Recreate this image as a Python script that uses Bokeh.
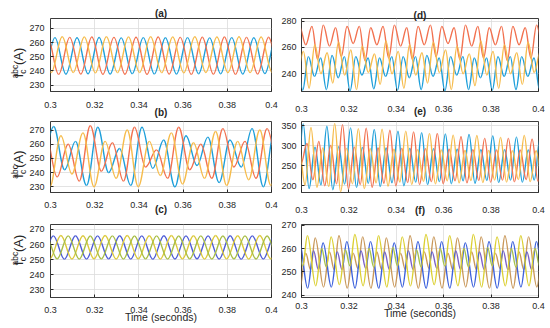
import numpy as np
from bokeh.plotting import figure
from bokeh.layouts import column, row
from bokeh.models import FixedTicker, ColumnDataSource, Range1d, LinearAxis
from bokeh.embed import file_html
from bokeh.resources import INLINE

# ---------------- data (extrema: time, value) ----------------
XTICKS = [0.30, 0.32, 0.34, 0.36, 0.38, 0.40]
XTICK_LABELS = ["0.3", "0.32", "0.34", "0.36", "0.38", "0.4"]
YTICKS_ABC = [230, 240, 250, 260, 270]
YTICKS_D = [240, 260, 280]
YTICKS_E = [200, 250, 300, 350]
YTICKS_F = [240, 250, 260, 270]
YRANGE_A = (225.5, 277.0)
YRANGE_B = (226.0, 276.0)
YRANGE_C = (225.0, 273.3)
YRANGE_D = (226.5, 282.0)
YRANGE_E = (183.0, 360.0)
YRANGE_F = (239.0, 270.3)
PANEL_TITLES = ["(a)", "(b)", "(c)", "(d)", "(e)", "(f)"]
X_LABEL = "Time (seconds)"
Y_LABEL_MAIN, Y_LABEL_SUP, Y_LABEL_SUB, Y_LABEL_UNIT = "I", "abc", "c", "(A)"

# (a)
A_BLUE_T = [0.2970, 0.3020, 0.3070, 0.3120, 0.3170, 0.3220, 0.3270, 0.3320, 0.3370, 0.3420, 0.3470,
            0.3520, 0.3570, 0.3620, 0.3670, 0.3720, 0.3770, 0.3820, 0.3870, 0.3920, 0.3970, 0.4020]
A_BLUE_V = [238.0, 263.5, 237.7, 263.4, 238.0, 263.6, 237.8, 263.3, 238.1, 263.5, 237.9,
            263.4, 237.8, 263.5, 238.0, 263.3, 238.0, 263.5, 237.8, 263.4, 238.1, 263.5]
A_RED_T = [0.2987, 0.3037, 0.3087, 0.3137, 0.3187, 0.3237, 0.3287, 0.3337, 0.3387, 0.3437, 0.3487,
           0.3537, 0.3587, 0.3637, 0.3687, 0.3737, 0.3787, 0.3837, 0.3887, 0.3937, 0.3987, 0.4037]
A_RED_V = [263.8, 237.6, 263.7, 237.8, 263.9, 237.6, 263.7, 237.7, 263.8, 237.6, 263.9,
           237.8, 263.7, 237.6, 263.8, 237.7, 263.9, 237.6, 263.7, 237.8, 263.8, 237.6]
A_YEL_T = [0.2953, 0.3003, 0.3053, 0.3103, 0.3153, 0.3203, 0.3253, 0.3303, 0.3353, 0.3403, 0.3453,
           0.3503, 0.3553, 0.3603, 0.3653, 0.3703, 0.3753, 0.3803, 0.3853, 0.3903, 0.3953, 0.4003]
A_YEL_V = [264.0, 238.8, 264.1, 238.9, 264.0, 238.7, 264.1, 238.8, 264.0, 238.9, 264.1,
           238.8, 264.0, 238.7, 264.1, 238.9, 264.0, 238.8, 264.1, 238.8, 264.0, 238.9]

# (b)
B_BLUE_T = [0.2964, 0.3014, 0.3064, 0.3113, 0.3163, 0.3214, 0.3263, 0.3312, 0.3363, 0.3414, 0.3463,
            0.3512, 0.3563, 0.3613, 0.3663, 0.3712, 0.3763, 0.3812, 0.3863, 0.3912, 0.3963, 0.4012]
B_BLUE_V = [248, 272.5, 242, 262, 231, 272, 240, 257, 231, 272, 243,
            263, 230, 266, 245, 265, 233, 263, 244, 271, 230, 268]
B_RED_T = [0.2980, 0.3030, 0.3080, 0.3130, 0.3180, 0.3230, 0.3280, 0.3330, 0.3380, 0.3430, 0.3480,
           0.3530, 0.3580, 0.3630, 0.3680, 0.3730, 0.3780, 0.3830, 0.3880, 0.3930, 0.3980, 0.4030]
B_RED_V = [265, 237, 260, 234, 273, 241, 261, 234, 272, 244, 256,
           236, 272, 242, 260, 236, 271, 244, 262, 236, 271, 245]
B_YEL_T = [0.2997, 0.3047, 0.3097, 0.3147, 0.3197, 0.3247, 0.3297, 0.3347, 0.3397, 0.3447, 0.3497,
           0.3547, 0.3597, 0.3647, 0.3697, 0.3747, 0.3797, 0.3847, 0.3897, 0.3947, 0.3997, 0.4047]
B_YEL_V = [230, 266, 239, 268, 230, 262, 236, 270, 230, 262, 238,
           268, 232, 261, 236, 269, 231, 262, 235, 270, 231, 265]

# (c)
C_BLUE_T = [0.2963, 0.3013, 0.3063, 0.3113, 0.3163, 0.3213, 0.3263, 0.3313, 0.3363, 0.3413, 0.3463,
            0.3513, 0.3563, 0.3613, 0.3663, 0.3713, 0.3763, 0.3813, 0.3863, 0.3913, 0.3963, 0.4013]
C_BLUE_V = [250.5, 265.8, 250.4, 265.9, 250.5, 265.8, 250.6, 265.9, 250.5, 265.8, 250.4,
            265.9, 250.5, 265.8, 250.6, 265.8, 250.5, 265.9, 250.4, 265.8, 250.5, 265.9]
C_YEL_T = [0.2997, 0.3047, 0.3097, 0.3147, 0.3197, 0.3247, 0.3297, 0.3347, 0.3397, 0.3447, 0.3497,
           0.3547, 0.3597, 0.3647, 0.3697, 0.3747, 0.3797, 0.3847, 0.3897, 0.3947, 0.3997, 0.4047]
C_YEL_V = [250.6, 266.0, 250.5, 265.9, 250.6, 266.0, 250.5, 266.0, 250.6, 265.9, 250.5,
           266.0, 250.6, 265.9, 250.5, 266.0, 250.6, 265.9, 250.5, 266.0, 250.6, 265.9]
C_GRN_T = [0.2980, 0.3030, 0.3080, 0.3130, 0.3180, 0.3230, 0.3280, 0.3330, 0.3380, 0.3430, 0.3480,
           0.3530, 0.3580, 0.3630, 0.3680, 0.3730, 0.3780, 0.3830, 0.3880, 0.3930, 0.3980, 0.4030]
C_GRN_V = [265.7, 250.6, 265.8, 250.5, 265.7, 250.6, 265.8, 250.5, 265.7, 250.6, 265.8,
           250.5, 265.7, 250.6, 265.8, 250.5, 265.7, 250.6, 265.8, 250.5, 265.7, 250.6]

# (d)
D_RED_T = [0.2968, 0.2992, 0.3018, 0.3044, 0.3068, 0.3092, 0.3118, 0.3144, 0.3168, 0.3192, 0.3218,
           0.3244, 0.3268, 0.3292, 0.3318, 0.3344, 0.3368, 0.3392, 0.3418, 0.3444, 0.3468, 0.3492,
           0.3518, 0.3544, 0.3568, 0.3592, 0.3618, 0.3644, 0.3668, 0.3692, 0.3718, 0.3744, 0.3768,
           0.3792, 0.3818, 0.3844, 0.3868, 0.3892, 0.3918, 0.3944, 0.3968, 0.3992, 0.4018]
D_RED_V = [252, 276, 262, 276, 251, 277, 261, 275, 253, 276, 263,
           276, 250, 275, 262, 276, 252, 277, 261, 275, 251, 276,
           262, 277, 253, 276, 263, 275, 251, 277, 261, 276, 252,
           275, 262, 276, 250, 276, 262, 275, 252, 277, 261]
D_BLUE_T = [0.2955, 0.2981, 0.3005, 0.3029, 0.3055, 0.3081, 0.3105, 0.3129, 0.3155, 0.3181, 0.3205,
            0.3229, 0.3255, 0.3281, 0.3305, 0.3329, 0.3355, 0.3381, 0.3405, 0.3429, 0.3455, 0.3481,
            0.3505, 0.3529, 0.3555, 0.3581, 0.3605, 0.3629, 0.3655, 0.3681, 0.3705, 0.3729, 0.3755,
            0.3781, 0.3805, 0.3829, 0.3855, 0.3881, 0.3905, 0.3929, 0.3955, 0.3981, 0.4005]
D_BLUE_V = [238, 252, 227.5, 253, 238, 252, 228, 254, 237, 253, 227,
            253, 239, 252, 228.5, 252, 238, 253, 227.5, 253, 237, 253,
            228, 254, 238, 252, 227, 253, 239, 253, 228, 252, 237,
            252, 227.5, 253, 238, 253, 228, 253, 238, 252, 227.5]
D_YEL_T = [0.2982, 0.3008, 0.3032, 0.3056, 0.3082, 0.3108, 0.3132, 0.3156, 0.3182, 0.3208, 0.3232,
           0.3256, 0.3282, 0.3308, 0.3332, 0.3356, 0.3382, 0.3408, 0.3432, 0.3456, 0.3482, 0.3508,
           0.3532, 0.3556, 0.3582, 0.3608, 0.3632, 0.3656, 0.3682, 0.3708, 0.3732, 0.3756, 0.3782,
           0.3808, 0.3832, 0.3856, 0.3882, 0.3908, 0.3932, 0.3956, 0.3982, 0.4008]
D_YEL_V = [240, 257, 229, 262, 240, 256, 233, 264, 239, 258, 228,
           261, 241, 255, 232, 265, 240, 257, 229, 262, 239, 256,
           233, 264, 241, 258, 228, 261, 240, 255, 231, 265, 239,
           257, 229, 262, 240, 256, 232, 264, 241, 257]

# (e)
E_BLUE_T = [0.2982, 0.3007, 0.3032, 0.3057, 0.3082, 0.3107, 0.3132, 0.3157, 0.3182, 0.3207, 0.3232,
            0.3257, 0.3282, 0.3307, 0.3332, 0.3357, 0.3382, 0.3407, 0.3432, 0.3457, 0.3482, 0.3507,
            0.3532, 0.3557, 0.3582, 0.3607, 0.3632, 0.3657, 0.3682, 0.3707, 0.3732, 0.3757, 0.3782,
            0.3807, 0.3832, 0.3857, 0.3882, 0.3907, 0.3932, 0.3957, 0.3982, 0.4007]
E_BLUE_V = [200, 354, 193, 296, 202, 348, 190, 297, 204, 344, 196,
            295, 206, 340, 198, 294, 207, 336, 200, 293, 209, 332,
            203, 292, 210, 329, 205, 291, 212, 328, 206, 290, 213,
            324, 208, 290, 214, 321, 209, 289, 214, 320]
E_YEL_T = [0.2990, 0.3015, 0.3040, 0.3065, 0.3090, 0.3115, 0.3140, 0.3165, 0.3190, 0.3215, 0.3240,
           0.3265, 0.3290, 0.3315, 0.3340, 0.3365, 0.3390, 0.3415, 0.3440, 0.3465, 0.3490, 0.3515,
           0.3540, 0.3565, 0.3590, 0.3615, 0.3640, 0.3665, 0.3690, 0.3715, 0.3740, 0.3765, 0.3790,
           0.3815, 0.3840, 0.3865, 0.3890, 0.3915, 0.3940, 0.3965, 0.3990, 0.4015]
E_YEL_V = [292, 202, 345, 196, 294, 198, 355, 185, 293, 205, 342,
           193, 292, 207, 341, 199, 291, 209, 336, 203, 290, 211,
           330, 205, 289, 212, 326, 207, 288, 213, 325, 208, 288,
           214, 320, 209, 287, 215, 325, 210, 287, 215]
E_RED_T = [0.2998, 0.3023, 0.3048, 0.3073, 0.3098, 0.3123, 0.3148, 0.3173, 0.3198, 0.3223, 0.3248,
           0.3273, 0.3298, 0.3323, 0.3348, 0.3373, 0.3398, 0.3423, 0.3448, 0.3473, 0.3498, 0.3523,
           0.3548, 0.3573, 0.3598, 0.3623, 0.3648, 0.3673, 0.3698, 0.3723, 0.3748, 0.3773, 0.3798,
           0.3823, 0.3848, 0.3873, 0.3898, 0.3923, 0.3948, 0.3973, 0.3998, 0.4023]
E_RED_V = [255, 305, 215, 310, 200, 300, 205, 352, 192, 296, 203,
           343, 196, 294, 206, 338, 200, 293, 208, 334, 203, 292,
           210, 330, 205, 291, 212, 322, 207, 290, 213, 318, 209,
           289, 214, 318, 210, 289, 215, 316, 211, 288]

# (f)
F_YEL_T = [0.2985, 0.3005, 0.3025, 0.3060, 0.3085, 0.3105, 0.3125, 0.3160, 0.3185, 0.3205, 0.3225,
           0.3260, 0.3285, 0.3305, 0.3325, 0.3360, 0.3385, 0.3405, 0.3425, 0.3460, 0.3485, 0.3505,
           0.3525, 0.3560, 0.3585, 0.3605, 0.3625, 0.3660, 0.3685, 0.3705, 0.3725, 0.3760, 0.3785,
           0.3805, 0.3825, 0.3860, 0.3885, 0.3905, 0.3925, 0.3960, 0.3985, 0.4005]
F_YEL_V = [260, 252.5, 265.5, 244, 260, 252, 265, 244.5, 259.5, 252.5, 266,
           244, 260, 252, 265.5, 243.5, 260.5, 252.5, 265, 244, 259.5, 252,
           266, 244.5, 260, 252.5, 265.5, 244, 260, 252, 266, 243.5, 260.5,
           252.5, 265, 244, 260, 252, 265.5, 244, 260, 252.5]
F_TAN_T = [0.2958, 0.2993, 0.3018, 0.3038, 0.3058, 0.3093, 0.3118, 0.3138, 0.3158, 0.3193, 0.3218,
           0.3238, 0.3258, 0.3293, 0.3318, 0.3338, 0.3358, 0.3393, 0.3418, 0.3438, 0.3458, 0.3493,
           0.3518, 0.3538, 0.3558, 0.3593, 0.3618, 0.3638, 0.3658, 0.3693, 0.3718, 0.3738, 0.3758,
           0.3793, 0.3818, 0.3838, 0.3858, 0.3893, 0.3918, 0.3938, 0.3958, 0.3993, 0.4018]
F_TAN_V = [265, 243, 258, 251, 264.5, 243.5, 258.5, 251, 265.5, 243, 258,
           251.5, 265, 243, 258.5, 251, 264.5, 243.5, 258, 251, 265.5, 243,
           258.5, 251.5, 265, 243, 258, 251, 264.5, 243.5, 258.5, 251, 265,
           243, 258, 251.5, 265.5, 243, 258.5, 251, 265, 243.5, 258]
F_BLUE_T = [0.2971, 0.2991, 0.3026, 0.3051, 0.3071, 0.3091, 0.3126, 0.3151, 0.3171, 0.3191, 0.3226,
            0.3251, 0.3271, 0.3291, 0.3326, 0.3351, 0.3371, 0.3391, 0.3426, 0.3451, 0.3471, 0.3491,
            0.3526, 0.3551, 0.3571, 0.3591, 0.3626, 0.3651, 0.3671, 0.3691, 0.3726, 0.3751, 0.3771,
            0.3791, 0.3826, 0.3851, 0.3871, 0.3891, 0.3926, 0.3951, 0.3971, 0.3991, 0.4026]
F_BLUE_V = [251, 263, 243, 259, 251, 262.5, 243.5, 258.5, 251, 263, 243,
            259, 251.5, 263, 243, 258.5, 251, 262.5, 243.5, 259, 251, 263,
            243, 258.5, 251.5, 263, 243, 259, 251, 262.5, 243.5, 258.5, 251,
            263, 243, 259, 251, 263, 243.5, 258.5, 251, 263, 243]

# ---------------- style ----------------
BLUE = "#1E9FDA"
RED = "#F2714F"
YEL = "#F6BC4C"
C_BLUE_COL = "#4E5CD6"
C_YEL_COL = "#DCC93C"
C_GRN_COL = "#A8BE46"
F_BLUE_COL = "#3D62DC"
F_BLUE_MID = "#7C62C8"
F_TAN_COL = "#C9985A"
F_YEL_COL = "#DCD033"
F_YEL_MID = "#A6C24C"
F_MID_BAND = (250.0, 260.8)
INK = "#262626"
FONT = "Liberation Sans"
K = 0.364  # bezier handle fraction for sinusoid-like half waves

ROW_TOP = [0, 120, 218]
# name: (border_left, frame_w, border_right, border_top, frame_h, border_bottom,
#        x_tick_standoff, y_tick_standoff, bottom_label, bottom_label_standoff, bottom_label_bold, row)
SPEC = {
    "a": (42, 229, 7, 14, 78, 28, 10, 6, PANEL_TITLES[1], -4, True, 0),
    "d": (20, 240, 12, 18, 74, 28, 14, 5, PANEL_TITLES[4], -9, True, 0),
    "b": (42, 229, 7, 1, 74, 23, 9, 6, PANEL_TITLES[2], -7, True, 1),
    "e": (20, 240, 12, 0, 72, 26, 14, 5, PANEL_TITLES[5], -11, True, 1),
    "c": (42, 229, 7, 6, 73, 31, 9, 6, X_LABEL, -5, False, 2),
    "f": (20, 240, 12, 2, 81, 27, 5, 5, X_LABEL, -5, False, 2),
}


def segs(t, v):
    t = np.asarray(t, float)
    v = np.asarray(v, float)
    x0, x1 = t[:-1], t[1:]
    dt = x1 - x0
    return dict(x0=x0, y0=v[:-1], x1=x1, y1=v[1:],
                cx0=x0 + K * dt, cy0=v[:-1], cx1=x1 - K * dt, cy1=v[1:])


def make_fig(name, yr, yticks, top_title=None, title_standoff=0):
    bl, fw, br, bt, fh, bb, xs, ys, blabel, bls, bold, r = SPEC[name]
    p = figure(width=bl + fw + br, height=bt + fh + bb,
               x_range=Range1d(0.3, 0.4), y_range=Range1d(*yr),
               output_backend="svg", toolbar_location=None,
               title_location="above" if top_title else None,
               min_border_left=bl, min_border_right=br, min_border_top=bt, min_border_bottom=bb)
    if top_title:
        p.title.text = top_title
        p.title.align = "center"
        p.title.text_font = FONT
        p.title.text_font_size = "10px"
        p.title.text_font_style = "bold"
        p.title.text_color = INK
        p.title.standoff = title_standoff
    p.background_fill_color = "white"
    p.border_fill_color = "white"
    p.outline_line_color = INK
    p.outline_line_width = 0.9
    for ax, ticks, so in ((p.xaxis[0], XTICKS, xs), (p.yaxis[0], yticks, ys)):
        ax.ticker = FixedTicker(ticks=ticks)
        ax.axis_line_color = None
        ax.major_tick_in = 3
        ax.major_tick_out = 0
        ax.major_tick_line_color = INK
        ax.minor_tick_line_color = None
        ax.major_label_standoff = so
        ax.major_label_text_font = FONT
        ax.major_label_text_font_size = "9px"
        ax.major_label_text_color = INK
    xa = p.xaxis[0]
    xa.major_label_overrides = dict(zip(XTICKS, XTICK_LABELS))
    xa.axis_label = blabel
    xa.axis_label_standoff = bls
    xa.axis_label_text_font = FONT
    xa.axis_label_text_font_size = "10px" if bold else "10.5px"
    xa.axis_label_text_font_style = "bold" if bold else "normal"
    xa.axis_label_text_color = INK
    p.xgrid.ticker = FixedTicker(ticks=XTICKS)
    p.ygrid.ticker = FixedTicker(ticks=yticks)
    for g in (p.xgrid, p.ygrid):
        g.grid_line_color = "#dcdcdc"
        g.grid_line_width = 0.8
    return p


def draw(p, t, v, color, mid_color=None):
    d = segs(t, v)
    if mid_color is None:
        cols = [color] * len(d["x0"])
    else:
        lo, hi = F_MID_BAND
        cols = [mid_color if (lo <= a <= hi and lo <= b <= hi) else color
                for a, b in zip(d["y0"], d["y1"])]
    d["color"] = cols
    p.bezier(x0="x0", y0="y0", x1="x1", y1="y1", cx0="cx0", cy0="cy0", cx1="cx1", cy1="cy1",
             source=ColumnDataSource(d), line_color="color", line_width=1.4)


def add_ylabel(p, name, start_y, gap):
    """Rotated I^abc_c (A) built from label-only axes on the left; start_y = page y where the label begins."""
    bl, fw, br, bt, fh, bb, xs, ys, blabel, bls, bold, r = SPEC[name]
    ftop = ROW_TOP[r] + bt
    fbot = ftop + fh
    p.extra_y_ranges = {"ylab": Range1d(start=fbot, end=ftop)}  # values = page y
    groups = [
        # (labels as (centre page-y, text), font size, standoff)
        ([(round(start_y - 4.5 - 2.1, 1), Y_LABEL_SUB)], "8.5px", 3),
        ([(round(start_y - 1.8, 1), Y_LABEL_MAIN), (round(start_y - 18.8 - gap - 8.0, 1), Y_LABEL_UNIT)], "13px", -8),
        ([(round(start_y - 4.5 - 7.2, 1), Y_LABEL_SUP)], "8.5px", -15),
    ]
    for labels, size, so in groups:
        ticks = [c for c, _ in labels]
        ax = LinearAxis(y_range_name="ylab", ticker=FixedTicker(ticks=ticks),
                        major_label_overrides={c: t for c, t in labels},
                        major_label_orientation=np.pi / 2, major_label_standoff=so,
                        major_label_text_font=FONT, major_label_text_font_size=size,
                        major_label_text_color=INK, axis_line_color=None,
                        major_tick_line_color=None, minor_tick_line_color=None,
                        major_tick_in=0, major_tick_out=0)
        p.add_layout(ax, "left")


pa = make_fig("a", YRANGE_A, YTICKS_ABC, PANEL_TITLES[0], 0)
pb = make_fig("b", YRANGE_B, YTICKS_ABC)
pc = make_fig("c", YRANGE_C, YTICKS_ABC)
pd = make_fig("d", YRANGE_D, YTICKS_D, PANEL_TITLES[3], -4)
pe = make_fig("e", YRANGE_E, YTICKS_E)
pf = make_fig("f", YRANGE_F, YTICKS_F)

draw(pa, A_BLUE_T, A_BLUE_V, BLUE)
draw(pa, A_RED_T, A_RED_V, RED)
draw(pa, A_YEL_T, A_YEL_V, YEL)
draw(pb, B_BLUE_T, B_BLUE_V, BLUE)
draw(pb, B_RED_T, B_RED_V, RED)
draw(pb, B_YEL_T, B_YEL_V, YEL)
draw(pc, C_BLUE_T, C_BLUE_V, C_BLUE_COL)
draw(pc, C_YEL_T, C_YEL_V, C_YEL_COL)
draw(pc, C_GRN_T, C_GRN_V, C_GRN_COL)
draw(pd, D_BLUE_T, D_BLUE_V, BLUE)
draw(pd, D_RED_T, D_RED_V, RED)
draw(pd, D_YEL_T, D_YEL_V, YEL)
draw(pe, E_BLUE_T, E_BLUE_V, BLUE)
draw(pe, E_RED_T, E_RED_V, RED)
draw(pe, E_YEL_T, E_YEL_V, YEL)
draw(pf, F_TAN_T, F_TAN_V, F_TAN_COL)
draw(pf, F_BLUE_T, F_BLUE_V, F_BLUE_COL, F_BLUE_MID)
draw(pf, F_YEL_T, F_YEL_V, F_YEL_COL, F_YEL_MID)

add_ylabel(pa, "a", 75.0, 3.0)
add_ylabel(pb, "b", 178.0, 0.0)
add_ylabel(pc, "c", 263.0, 2.0)

layout = column(row(pa, pd), row(pb, pe), row(pc, pf))
open("out.html", "w").write(file_html(layout, INLINE))
